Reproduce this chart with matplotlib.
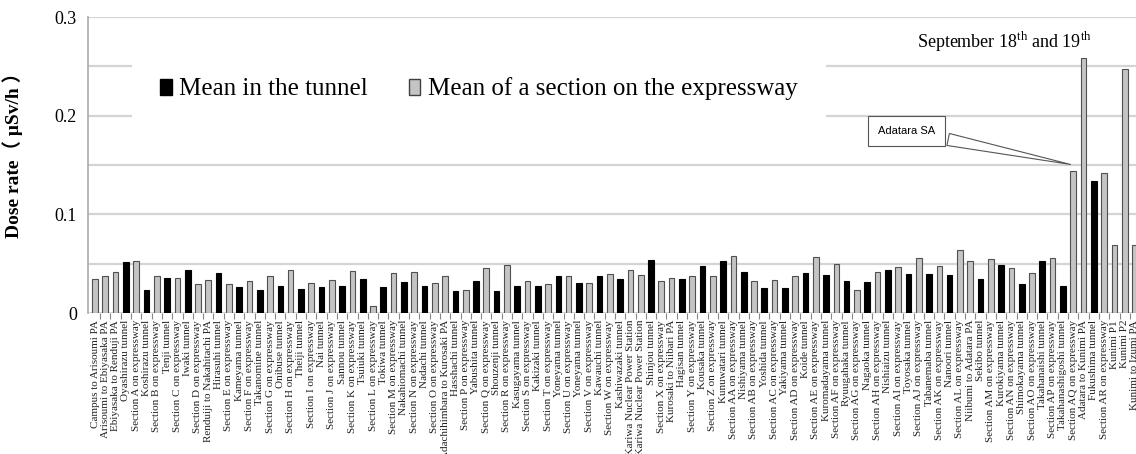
import matplotlib
matplotlib.use("Agg")
import matplotlib.pyplot as plt
from matplotlib.patches import Patch
import numpy as np

plt.rcParams["font.family"] = ["Liberation Serif", "DejaVu Serif"]
plt.rcParams["mathtext.fontset"] = "custom"
plt.rcParams["mathtext.rm"] = "Liberation Serif"

# Measurement points along the expressway, in driving order
locations = [
    "Campus to Arisoumi PA", "Arisoumi to Ebiyasaka PA", "Ebiyasaka to Renduji PA",
    "Oyashirazu tunnel", "Section A on expressway", "Koshirazu tunnel",
    "Section B on expressway", "Tenji tunnel", "Section C on expressway",
    "Iwaki tunnel", "Section D on expressway", "Renduiji to Nakahitachi PA",
    "Hirasuhi tunnel", "Section E on expressway", "Kameyama tunnel",
    "Section F on expressway", "Takanomine tunnel", "Section G on expressway",
    "Onibuse tunnel", "Section H on expressway", "Theiji tunnel",
    "Section I on expressway", "Nai tunnel", "Section J on expressway",
    "Sannou tunnel", "Section K on expressway", "Tsuiuki tunnel",
    "Section L on expressway", "Tokiwa tunnel", "Section M on expressway",
    "Nakahiomachi tunnel", "Section N on expressway", "Nadachi tunnel",
    "Section O on expressway", "Adachihimbara to Kurosaki PA", "Hasshachi tunnel",
    "Section P on expressway", "Yabushita tunnel", "Section Q on expressway",
    "Shouzenji tunnel", "Section R on expressway", "Kasugayama tunnel",
    "Section S on expressway", "Kakizaki tunnel", "Section T on expressway",
    "Yoneyama tunnel", "Section U on expressway", "Yoneyama tunnel",
    "Section V on expressway", "Kawauchi tunnel", "Section W on expressway",
    "Kashiwazaki tunnel", "around Kariwa Nuclear Power Station",
    "around Kariwa Nuclear Power Station", "Shinjou tunnel",
    "Section X on expressway", "Kurosaki to Niibari PA", "Hagisan tunnel",
    "Section Y on expressway", "Kousaka tunnel", "Section Z on expressway",
    "Kunuwatari tunnel", "Section AA on expressway", "Nishiyama tunnel",
    "Section AB on expressway", "Yoshida tunnel", "Section AC on expressway",
    "Yakiyama tunnel", "Section AD on expressway", "Koide tunnel",
    "Section AE on expressway", "Kuromadayama tunnel", "Section AF on expressway",
    "Ryuugahaka tunnel", "Section AG on expressway", "Nagaoka tunnel",
    "Section AH on expressway", "Nishiaizu tunnel", "Section AI on expressway",
    "Toyosaka tunnel", "Section AJ on expressway", "Tabanemaba tunnel",
    "Section AK on expressway", "Nanoori tunnel", "Section AL on expressway",
    "Niibumi to Adatara PA", "Sekibo tunnel", "Section AM on expressway",
    "Kurokiyama tunnel", "Section AN on expressway", "Shimokayama tunnel",
    "Section AO on expressway", "Takahanaishi tunnel", "Section AP on expressway",
    "Takahanashigoshi tunnel", "Section AQ on expressway", "Adatara to Kunimi PA",
    "Fukushima tunnel", "Section AR on expressway", "Kunimi P1", "Kunimi P2",
    "Kunimi to Izumi PA",
]

# Mean dose rate (uSv/h)
dose_rate = [
    0.034, 0.037, 0.042, 0.052, 0.053, 0.023, 0.038, 0.035, 0.035, 0.044,
    0.029, 0.033, 0.041, 0.029, 0.026, 0.032, 0.023, 0.038, 0.027, 0.044,
    0.024, 0.030, 0.026, 0.033, 0.027, 0.043, 0.034, 0.007, 0.026, 0.041,
    0.031, 0.042, 0.027, 0.030, 0.037, 0.022, 0.023, 0.032, 0.046, 0.022,
    0.049, 0.027, 0.032, 0.027, 0.029, 0.038, 0.038, 0.030, 0.030, 0.038,
    0.040, 0.034, 0.044, 0.039, 0.054, 0.032, 0.035, 0.034, 0.038, 0.048,
    0.038, 0.053, 0.058, 0.042, 0.032, 0.025, 0.033, 0.025, 0.038, 0.041,
    0.057, 0.039, 0.050, 0.032, 0.023, 0.031, 0.042, 0.044, 0.047, 0.040,
    0.056, 0.040, 0.048, 0.039, 0.064, 0.053, 0.034, 0.055, 0.049, 0.046,
    0.029, 0.041, 0.053, 0.056, 0.027, 0.144, 0.258, 0.134, 0.142, 0.069,
    0.247, 0.069,
]

y_ticks = [0, 0.1, 0.2, 0.3]
y_tick_labels = ["0", "0.1", "0.2", "0.3"]

TUNNEL_COLOR = "black"
SECTION_COLOR = "#c4c4c4"

fig = plt.figure(figsize=(11.36, 4.54), dpi=100)
ax = fig.add_axes([88 / 1136, 141 / 454, 1048 / 1136, 296 / 454])

x = np.arange(len(locations))
in_tunnel = np.array(["tunnel" in name for name in locations])
colors = [TUNNEL_COLOR if t else SECTION_COLOR for t in in_tunnel]
edges = ["black" if t else "#505050" for t in in_tunnel]
ax.bar(x, dose_rate, width=0.55, color=colors, edgecolor=edges, linewidth=0.8, zorder=3)

# The right end of the axis runs past the figure edge, clipping the last bar
ax.set_xlim(-0.68, len(locations) - 0.9)
ax.set_ylim(0, 0.3)

# Light horizontal grid every 0.05, labels every 0.1
ax.set_yticks(np.arange(0, 0.301, 0.05), minor=True)
ax.set_yticks(y_ticks)
ax.set_yticklabels(y_tick_labels, fontsize=13)
ax.grid(axis="y", which="both", color="#d4d4d4", linewidth=1.6, zorder=0)
ax.tick_params(axis="y", which="both", length=0, pad=8)

ax.set_xticks(x)
ax.set_xticklabels(locations, rotation=90, fontsize=8, color="#222222")
ax.set_xticks(x[:-1] + 0.5, minor=True)
ax.tick_params(axis="x", which="major", length=0, pad=5)
ax.tick_params(axis="x", which="minor", length=4, color="#888888", width=0.8)

for side in ("top", "right", "bottom"):
    ax.spines[side].set_visible(False)
ax.spines["left"].set_color("#aaaaaa")
ax.spines["left"].set_linewidth(1.2)

ax.set_ylabel("Dose rate（ μSv/h ）", fontsize=14, fontweight="bold",
              family=["Liberation Serif", "Noto Sans CJK JP"])
ax.yaxis.set_label_coords(-0.062, 0.55)

handles = [Patch(facecolor=TUNNEL_COLOR, edgecolor="black"),
           Patch(facecolor=SECTION_COLOR, edgecolor="#404040")]
leg = fig.legend(handles, ["Mean in the tunnel", "Mean of a section on the expressway"],
                 loc="center left", bbox_to_anchor=(119 / 1136, 1 - 89 / 454),
                 ncol=2, fontsize=18, frameon=True, framealpha=1, fancybox=False,
                 edgecolor="none", facecolor="white", borderpad=1.15,
                 handlelength=0.45, handleheight=0.6, handletextpad=0.3,
                 columnspacing=1.65)

ax.text(0.874, 0.915, r"September 18$^{\mathrm{th}}$ and 19$^{\mathrm{th}}$",
        transform=ax.transAxes, ha="center", va="center", fontsize=13)

ax.annotate("Adatara SA", xy=(95, dose_rate[95] + 0.006),
            xytext=(0.781, 0.615), textcoords="axes fraction",
            ha="center", va="center", fontsize=8, family="Liberation Sans",
            bbox=dict(boxstyle="square,pad=0.9", fc="white", ec="#555555", lw=0.8),
            arrowprops=dict(arrowstyle="wedge,tail_width=1.1,shrink_factor=0.5",
                            fc="white", ec="#555555", lw=0.8),
            zorder=5)

fig.savefig("out.png", dpi=100)
